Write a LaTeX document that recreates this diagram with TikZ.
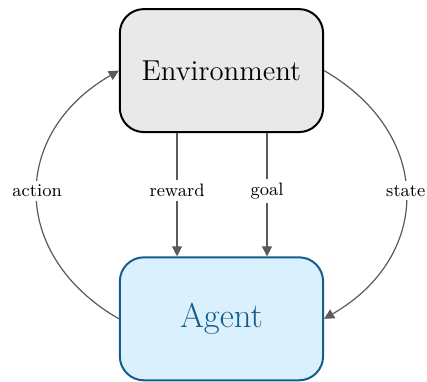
\documentclass[tikz,border=0pt]{standalone}
\usepackage{amsmath}
\usetikzlibrary{arrows.meta}
\definecolor{envfill}{RGB}{233,233,233}
\definecolor{agentfill}{RGB}{218,241,253}
\definecolor{agentblue}{RGB}{22,92,140}
\definecolor{linkgray}{RGB}{90,90,90}

\begin{document}
\begin{tikzpicture}[node distance=4.36cm,
				box/.style = {rectangle,draw,rounded corners=12pt,line width=1pt,minimum width=3.57cm,minimum height=2.16cm},
				link/.style = {draw=linkgray,line width=0.6pt,-{Triangle[length=5pt,width=5pt]}},
				lab/.style = {fill=white,font=\small,inner sep=2pt,yshift=2pt}]
				
				\useasboundingbox (-3.89,1.24) rectangle (3.61,-5.46);
				
				\node[box,fill=envfill,font=\Large] (1) {Environment};
				\node[box,fill=agentfill,draw=agentblue,text=agentblue,font=\LARGE] [below of = 1] (2) {Agent};
				
				\path ([xshift=-0.78cm]1.south) edge [link] node[lab] {reward} ([xshift=-0.78cm]2.north);
				\path ([xshift=0.8cm]1.south) edge [link] node[lab] {goal} ([xshift=0.8cm]2.north);
				\path (1.east) edge [link,bend left=60,looseness=1.3] node[lab] {state} (2.east);
				\path (2.west) edge [link,bend left=60,looseness=1.3] node[lab] {action} (1.west);
				
				\end{tikzpicture}
\end{document}
